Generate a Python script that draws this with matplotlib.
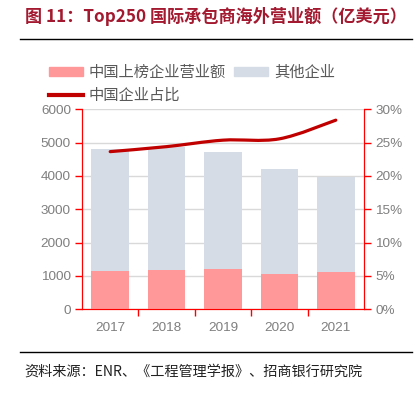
import numpy as np
import matplotlib
matplotlib.use("Agg")
import matplotlib.pyplot as plt
from matplotlib.path import Path
from matplotlib.patches import PathPatch, Patch
from matplotlib.lines import Line2D
from matplotlib.ticker import FuncFormatter

plt.rcParams['font.family'] = ['Liberation Sans', 'Noto Sans CJK SC', 'DejaVu Sans']

years = ['2017', '2018', '2019', '2020', '2021']
china_rev = [1141, 1189, 1200, 1074, 1129]
total_rev = [4824, 4873, 4730, 4200, 3979]
other_rev = [t - c for t, c in zip(total_rev, china_rev)]
china_share = [23.65, 24.4, 25.37, 25.57, 28.37]

pink = '#FF9999'
grey_bar = '#D6DCE5'
line_red = '#C00000'
axis_red = '#FF0000'
tick_grey = '#7F7F7F'

fig = plt.figure(figsize=(4.2, 3.98), dpi=100)

# title + rules
fig.text(25 / 420, 1 - 17 / 398, '图 11：Top250 国际承包商海外营业额（亿美元）',
         fontsize=12.3, fontweight='bold', color='#A31A30', va='center', ha='left',
         family=['Noto Sans CJK SC', 'DejaVu Sans'])
fig.add_artist(Line2D([20 / 420, 412 / 420], [1 - 38.5 / 398] * 2, color='black', lw=1))
fig.add_artist(Line2D([20 / 420, 412 / 420], [1 - 352 / 398] * 2, color='black', lw=1))
fig.text(24 / 420, 1 - 372 / 398, '资料来源：ENR、《工程管理学报》、招商银行研究院',
         fontsize=10.2, color='#222222', va='center', ha='left',
         family=['Noto Sans CJK SC', 'DejaVu Sans'])

ax = fig.add_axes([82 / 420, 88.7 / 398, 282 / 420, 200 / 398])
x = np.arange(len(years))
ax.bar(x, china_rev, width=0.67, color=pink, zorder=3)
ax.bar(x, other_rev, bottom=china_rev, width=0.67, color=grey_bar, zorder=3)
ax.set_xlim(-0.5, len(years) - 0.5)
ax.set_ylim(0, 6000)
ax.set_yticks(np.arange(0, 6001, 1000))
ax.yaxis.grid(True, color='#D9D9D9', lw=1, zorder=0)
ax.set_axisbelow(True)
ax.set_xticks(x)
ax.set_xticklabels(years)
ax.set_xticks(np.arange(0.5, len(years) - 1, 1), minor=True)
ax.tick_params(axis='x', which='major', length=0, pad=9, labelsize=9.7, labelcolor=tick_grey)
ax.tick_params(axis='x', which='minor', length=5, width=1, color=axis_red, direction='out')
ax.tick_params(axis='y', length=5, width=1, color=axis_red, direction='out', pad=3,
               labelsize=9.7, labelcolor=tick_grey)
for s in ['left', 'right', 'bottom']:
    ax.spines[s].set_color(axis_red)
ax.spines['top'].set_visible(False)

ax2 = ax.twinx()
ax2.set_ylim(0, 30)
ax2.set_yticks(np.arange(0, 31, 5))
ax2.yaxis.set_major_formatter(FuncFormatter(lambda v, p: f'{int(v)}%'))
ax2.tick_params(axis='y', length=5, width=1, color=axis_red, direction='out', pad=3,
                labelsize=9.7, labelcolor=tick_grey)
for s in ['left', 'right', 'bottom']:
    ax2.spines[s].set_color(axis_red)
ax2.spines['top'].set_visible(False)

# smoothed share line (bezier through the data points)
pts = np.column_stack([x, china_share]).astype(float)
verts = [tuple(pts[0])]
codes = [Path.MOVETO]
n = len(pts)
for i in range(n - 1):
    p0 = pts[i - 1] if i > 0 else pts[i]
    p1 = pts[i]
    p2 = pts[i + 1]
    p3 = pts[i + 2] if i + 2 < n else pts[i + 1]
    c1 = p1 + (p2 - p0) / 6
    c2 = p2 - (p3 - p1) / 6
    verts += [tuple(c1), tuple(c2), tuple(p2)]
    codes += [Path.CURVE4] * 3
ax2.add_patch(PathPatch(Path(verts, codes), facecolor='none', edgecolor=line_red,
                        lw=2.3, capstyle='round', zorder=5))

handles = [Patch(color=pink), Line2D([], [], color=line_red, lw=3),
           Patch(color=grey_bar)]
labels = ['中国上榜企业营业额', '中国企业占比', '其他企业']
fig.legend(handles, labels, ncol=2, loc='upper left',
           bbox_to_anchor=(49 / 420, 1 - 64 / 398), frameon=False,
           labelcolor='#595959', handlelength=2.2, handleheight=0.6,
           handletextpad=0.4, columnspacing=0.55, labelspacing=0.4,
           borderpad=0, borderaxespad=0,
           prop={'family': ['Noto Sans CJK SC', 'DejaVu Sans'], 'size': 11})

fig.savefig('out.png', dpi=100)
